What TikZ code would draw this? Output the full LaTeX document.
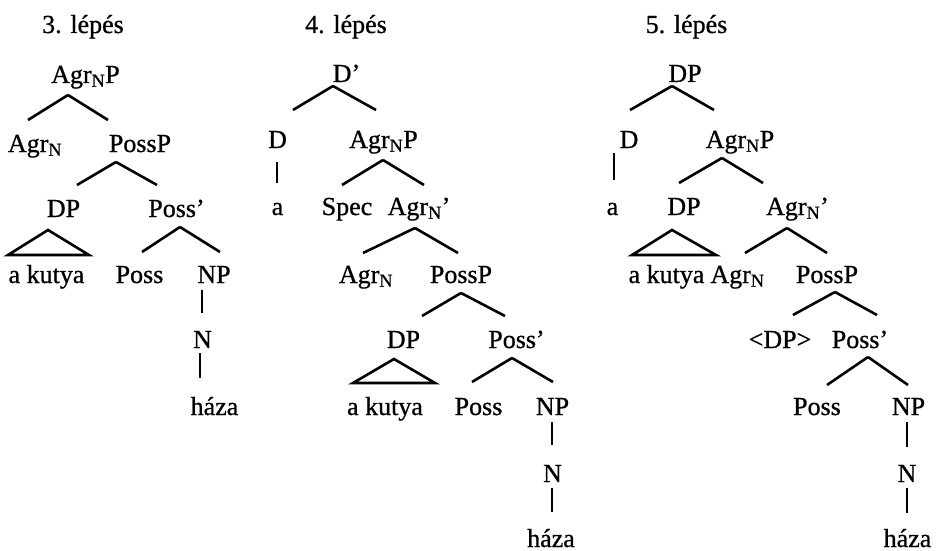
\documentclass[tikz,border=0pt]{standalone}
\usepackage{fontspec}
\setmainfont{Liberation Serif}[FakeBold=0.8,AutoFakeBold=0.8]
\newcommand\trbranch[6]{\draw ([shift={(#2,#3)}]#1.base) -- ([shift={(#5,#6)}]#4.base);}
\newcommand\trtri[8]{\draw ([shift={(#2,#3)}]#1.base) -- ([shift={(#5,#6)}]#4.base) -- ([shift={(#7,#8)}]#4.base) -- cycle;}
\newcommand\AgrN{Agr\textsubscript{N}}
\begin{document}
\begin{tikzpicture}[x=1pt,y=-1pt,
  tn/.style={anchor=base,inner sep=0pt,font=\fontsize{26}{30}\selectfont\bfseries},
  low/.style={text depth=0pt},
  every path/.style={line width=2.6pt,line join=miter}]
\useasboundingbox (0,0) rectangle (938,551);
% ---------- 3. lépés ----------
\node[tn] (title3) at (83,33) {3. lépés};
\node[tn] (t3root) at (85.5,83) {\AgrN P};
\node[tn] (t3agr) at (35,152) {\AgrN};
\node[tn] (t3possp) at (140,152) {PossP};
\node[tn] (t3dp) at (63.5,217) {DP};
\node[tn] (t3pbar) at (176.5,217) {Poss’};
\node[tn] (t3kutya) at (46.5,283) {a kutya};
\node[tn] (t3p) at (139.5,283) {Poss};
\node[tn] (t3np) at (214,283) {NP};
\node[tn] (t3n) at (202.5,348) {N};
\node[tn] (t3haza) at (214.5,415) {háza};
\trbranch{t3root}{-17.5}{12}{t3agr}{-7}{-32}
\trbranch{t3root}{-17.5}{12}{t3possp}{-32}{-32}
\trbranch{t3possp}{-24}{10}{t3dp}{13.5}{-32}
\trbranch{t3possp}{-24}{10}{t3pbar}{-19.5}{-32}
\trtri{t3dp}{-15.5}{13}{t3kutya}{-38.5}{-28}{42.5}{-28}
\trbranch{t3pbar}{3.5}{10}{t3p}{2.5}{-31}
\trbranch{t3pbar}{3.5}{10}{t3np}{6}{-31}
\trbranch{t3np}{-12}{7}{t3n}{-0.5}{-35}
\trbranch{t3n}{-2.5}{5}{t3haza}{-14.5}{-37}
% ---------- 4. lépés ----------
\node[tn] (title4) at (346,33) {4. lépés};
\node[tn] (t4root) at (346.5,82) {D’};
\node[tn] (t4d) at (277.5,148) {D};
\node[tn] (t4a) at (277.5,215) {a};
\node[tn] (t4agrp) at (383.5,148) {\AgrN P};
\node[tn] (t4spec) at (347,215) {Spec};
\node[tn] (t4agrbar) at (419,215) {\AgrN’};
\node[tn] (t4agr) at (366,283) {\AgrN};
\node[tn] (t4possp) at (461,283) {PossP};
\node[tn] (t4dp) at (403.5,348) {DP};
\node[tn] (t4pbar) at (516.5,348) {Poss’};
\node[tn] (t4kutya) at (385,415) {a kutya};
\node[tn] (t4p) at (478.5,415) {Poss};
\node[tn] (t4np) at (552.5,415) {NP};
\node[tn] (t4n) at (552.5,482) {N};
\node[tn,low] (t4haza) at (551,547) {háza};
\trbranch{t4root}{-13.5}{4}{t4d}{15.5}{-38}
\trbranch{t4root}{-13.5}{4}{t4agrp}{-7.5}{-38}
\trbranch{t4d}{-0.5}{14}{t4a}{-0.5}{-32}
\trbranch{t4agrp}{-0.5}{12}{t4spec}{-5}{-30}
\trbranch{t4agrp}{-0.5}{12}{t4agrbar}{5}{-30}
\trbranch{t4agrbar}{-4}{13}{t4agr}{-3}{-30}
\trbranch{t4agrbar}{-4}{13}{t4possp}{-3}{-30}
\trbranch{t4possp}{0}{10}{t4dp}{18.5}{-32}
\trbranch{t4possp}{0}{10}{t4pbar}{-11.5}{-32}
\trtri{t4dp}{-9.5}{11}{t4kutya}{-32}{-32}{50}{-32}
\trbranch{t4pbar}{-4.5}{10}{t4p}{-6.5}{-33}
\trbranch{t4pbar}{-4.5}{10}{t4np}{0.5}{-33}
\trbranch{t4np}{-0.5}{7}{t4n}{-0.5}{-37}
\trbranch{t4n}{-0.5}{6}{t4haza}{1}{-35}
% ---------- 5. lépés ----------
\node[tn] (title5) at (686.5,33) {5. lépés};
\node[tn] (t5root) at (685,82) {DP};
\node[tn] (t5d) at (629,148) {D};
\node[tn] (t5a) at (612.5,215) {a};
\node[tn] (t5agrp) at (740,148) {\AgrN P};
\node[tn] (t5dp) at (684,215) {DP};
\node[tn] (t5agrbar) at (797.5,215) {\AgrN’};
\node[tn] (t5kutya) at (666.5,283) {a kutya};
\node[tn] (t5agr) at (737.5,283) {\AgrN};
\node[tn] (t5possp) at (827,283) {PossP};
\node[tn] (t5tdp) at (780,348) {<DP>};
\node[tn] (t5pbar) at (860,348) {Poss’};
\node[tn] (t5p) at (817,415) {Poss};
\node[tn] (t5np) at (908.5,415) {NP};
\node[tn] (t5n) at (907,482) {N};
\node[tn,low] (t5haza) at (907.5,547) {háza};
\trbranch{t5root}{-13}{4}{t5d}{1}{-38}
\trbranch{t5root}{-13}{4}{t5agrp}{-26}{-38}
\trbranch{t5d}{-15}{5}{t5a}{1.5}{-35}
\trbranch{t5agrp}{-18}{10}{t5dp}{-5}{-32}
\trbranch{t5agrp}{-18}{10}{t5agrbar}{-34.5}{-32}
\trtri{t5dp}{-12}{15}{t5kutya}{-34.5}{-28}{49.5}{-28}
\trbranch{t5agrbar}{-10.5}{13}{t5agr}{7.5}{-30}
\trbranch{t5agrbar}{-10.5}{13}{t5possp}{0}{-30}
\trbranch{t5possp}{8}{9}{t5tdp}{13}{-33}
\trbranch{t5possp}{8}{9}{t5pbar}{17}{-33}
\trbranch{t5pbar}{8}{9}{t5p}{10}{-30}
\trbranch{t5pbar}{8}{9}{t5np}{-0.5}{-30}
\trbranch{t5np}{-1.5}{7}{t5n}{0}{-35}
\trbranch{t5n}{0}{6}{t5haza}{-0.5}{-34}
\end{tikzpicture}
\end{document}
